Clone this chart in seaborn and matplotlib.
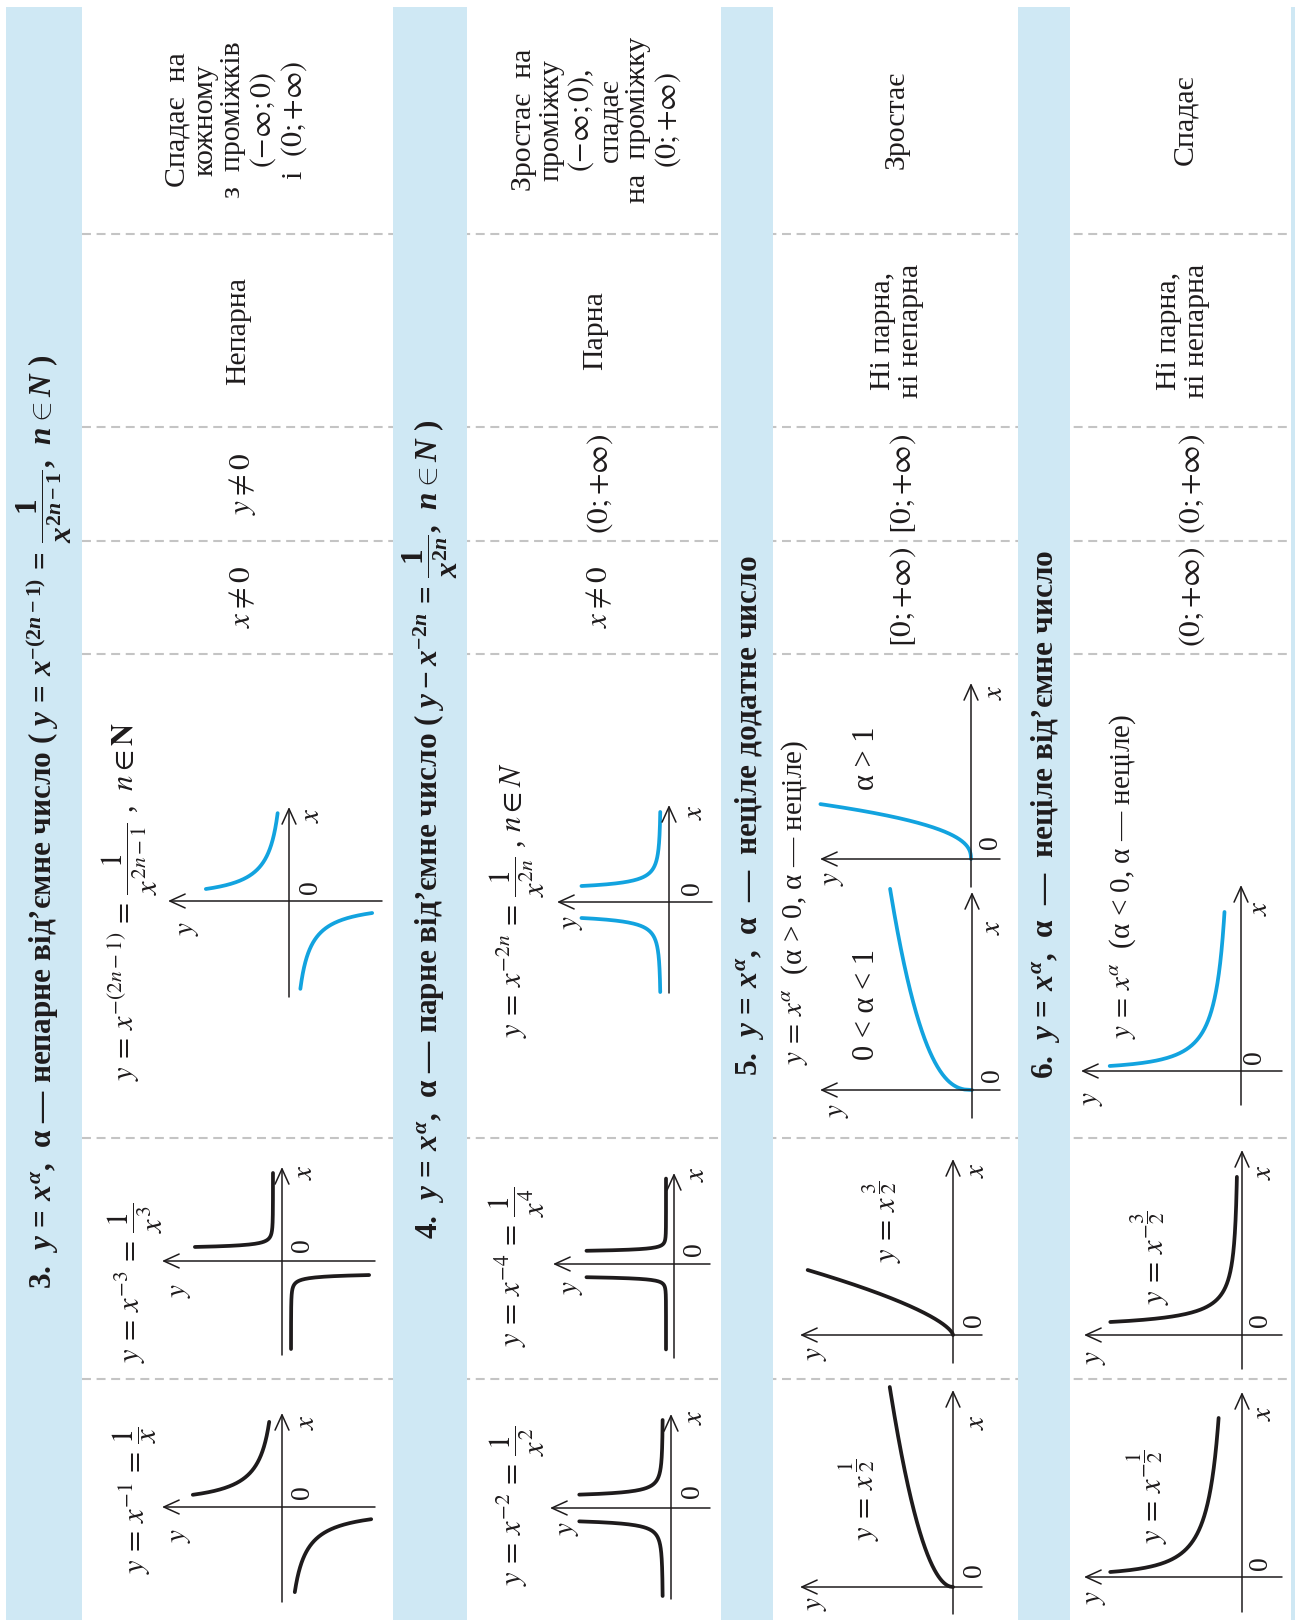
import numpy as np
import matplotlib
matplotlib.use("Agg")
import matplotlib.pyplot as plt
import seaborn as sns

# --- table content (rotated page, read bottom to top) ---
headers = [
    r"3.  $y\,=\,x^{\alpha}$,  α — непарне від’ємне число ( $y\,=\,x^{-(2n-1)}\,=\,\dfrac{1}{x^{2n-1}}$,  $n\in N$ )",
    r"4.  $y\,=\,x^{\alpha}$,  α — парне від’ємне число ( $y-x^{-2n}\,=\,\dfrac{1}{x^{2n}}$,  $n\in N$ )",
    r"5.  $y\,=\,x^{\alpha}$,  α  —  неціле додатне число",
    r"6.  $y\,=\,x^{\alpha}$,  α  —  неціле від’ємне число",
]
monotony = [
    "Спадає  на\nкожному\nз  проміжків\n$(-\\infty{;}0)$\nі  $(0{;}{+}\\infty)$",
    "Зростає  на\nпроміжку\n$(-\\infty{;}0)$,\nспадає\nна  проміжку\n$(0{;}{+}\\infty)$",
    "Зростає",
    "Спадає",
]
parity = ["Непарна", "Парна", "Ні парна,\nні непарна", "Ні парна,\nні непарна"]
value_range = [r"$y\neq 0$", r"$(0{;}{+}\infty)$", r"$[0{;}{+}\infty)$", r"$(0{;}{+}\infty)$"]
domain = [r"$x\neq 0$", r"$x\neq 0$", r"$[0{;}{+}\infty)$", r"$(0{;}{+}\infty)$"]
subtitles = [r"$y\,=\,x^{\alpha}$  (α > 0, α — неціле)", r"$y\,=\,x^{\alpha}$  (α < 0, α — неціле)"]
case_labels = ["0 < α < 1", "α > 1"]

# --- graphs: exponent, x-domain of one branch, symmetry, formula ---
graph_ids = ["g3_gen", "g3_b", "g3_a", "g4_gen", "g4_b", "g4_a",
             "g5_gt1", "g5_lt1", "g5_b", "g5_a", "g6_gen", "g6_b", "g6_a"]
graph_alpha = [-1, -3, -1, -2, -4, -2, 2.5, 0.4, 1.5, 0.5, -0.6, -1.5, -0.5]
graph_xrange = [(0.38, 2.78), (0.504, 7.9), (0.37, 2.58), (0.465, 4.77), (0.58, 8.6), (0.40, 5.97),
                (0, 1.96), (0, 4.47), (0, 5.0), (0, 10.0), (0.13, 4.12), (0.36, 5.58), (0.113, 3.59)]
graph_sym = ["odd", "odd", "odd", "even", "even", "even",
             "none", "none", "none", "none", "none", "none", "none"]
graph_formula = [
    r"$y\,=\,x^{-(2n-1)}\,=\,\dfrac{1}{x^{2n-1}}$ ,  $n\in\mathbf{N}$",
    r"$y\,=\,x^{-3}\,=\,\dfrac{1}{x^{3}}$",
    r"$y\,=\,x^{-1}\,=\,\dfrac{1}{x}$",
    r"$y\,=\,x^{-2n}\,=\,\dfrac{1}{x^{2n}}$ , $n\in N$",
    r"$y\,=\,x^{-4}\,=\,\dfrac{1}{x^{4}}$",
    r"$y\,=\,x^{-2}\,=\,\dfrac{1}{x^{2}}$",
    None, None,
    r"$y\,=\,x^{\,\dfrac{3}{2}}$",
    r"$y\,=\,x^{\,\dfrac{1}{2}}$",
    None,
    r"$y\,=\,x^{-\dfrac{3}{2}}$",
    r"$y\,=\,x^{-\dfrac{1}{2}}$",
]

# --- layout in pixels of the page ---
W, H = 1295, 1620
BLUE_BG = "#cfe8f4"
CURVE_BLUE = "#12a3df"
INK = "#1e1b1c"
DASH = "#c4c4c4"

bands = [(6, 82), (393, 467), (721, 773), (1018, 1070), (1291, 1295)]
dash_rows = [234, 427, 541, 654, 1138, 1379]
row_x = [(237, 238, 243, 243), (597, 595, 600, 600), (897, 897, 903, 903), (1185, 1183, 1192, 1192)]
row_y = (120, 331, 484, 597)
header_pos = [(44, 822), (430, 829), (750, 816), (1046, 814)]

# origin, scale px/unit, gap px, y-axis tip x, y-axis end x, x-axis bottom y, x-axis tip y, label x, label y, label 0, formula pos, colour
layout = {
    "g3_gen": dict(o=(289, 901), s=31.6, g=0, yt=168, ye=382, xb=997, xt=807, lx=(312, 815), ly=(188, 928), l0=(310, 887), f=(130, 901), c=CURVE_BLUE),
    "g3_b": dict(o=(282, 1261), s=10, g=9, yt=162, ye=375, xb=1355, xt=1167, lx=(305, 1172), ly=(180, 1290), l0=(302, 1245), f=(135, 1283), c=INK),
    "g3_a": dict(o=(282, 1507), s=33, g=0, yt=162, ye=375, xb=1602, xt=1413, lx=(307, 1422), ly=(180, 1535), l0=(302, 1492), f=(135, 1500), c=INK),
    "g4_gen": dict(o=(669, 902), s=17.2, g=8, yt=557, ye=712, xb=993, xt=805, lx=(695, 812), ly=(572, 922), l0=(692, 888), f=(517, 900), c=CURVE_BLUE),
    "g4_b": dict(o=(674, 1264), s=9, g=8, yt=553, ye=710, xb=1358, xt=1173, lx=(697, 1174), ly=(572, 1287), l0=(695, 1249), f=(517, 1267), c=INK),
    "g4_a": dict(o=(671, 1508), s=13.4, g=8, yt=550, ye=710, xb=1599, xt=1414, lx=(695, 1417), ly=(568, 1528), l0=(692, 1491), f=(517, 1506), c=INK),
    "g5_gt1": dict(o=(971, 859), s=28, g=0, yt=820, ye=1000, xb=887, xt=683, lx=(995, 692), ly=(833, 878), l0=(990, 842), f=None, c=CURVE_BLUE),
    "g5_lt1": dict(o=(972, 1090), s=45.0, g=0, yt=820, ye=1000, xb=1118, xt=892, lx=(993, 927), ly=(838, 1110), l0=(992, 1075), f=None, c=CURVE_BLUE),
    "g5_b": dict(o=(953, 1335), s=13, g=0, yt=800, ye=982, xb=1363, xt=1159, lx=(977, 1170), ly=(816, 1353), l0=(974, 1320), f=(882, 1222), c=INK),
    "g5_a": dict(o=(953, 1587), s=20, g=0, yt=800, ye=982, xb=1614, xt=1390, lx=(977, 1422), ly=(816, 1603), l0=(974, 1570), f=(860, 1500), c=INK),
    "g6_gen": dict(o=(1241, 1071), s=38.6, g=0, yt=1081, ye=1282, xb=1105, xt=885, lx=(1260, 908), ly=(1092, 1098), l0=(1255, 1057), f=None, c=CURVE_BLUE),
    "g6_b": dict(o=(1242, 1335), s=27.8, g=3, yt=1084, ye=1282, xb=1369, xt=1150, lx=(1264, 1172), ly=(1095, 1357), l0=(1260, 1320), f=(1150, 1258), c=INK),
    "g6_a": dict(o=(1242, 1577), s=44.3, g=0, yt=1084, ye=1282, xb=1612, xt=1392, lx=(1264, 1413), ly=(1095, 1597), l0=(1260, 1563), f=(1148, 1497), c=INK),
}

sns.set_theme(style="white")
plt.rcParams["font.family"] = ["Liberation Serif", "DejaVu Serif"]
plt.rcParams["mathtext.fontset"] = "stix"
# bold maths for the header bands
plt.rcParams["mathtext.rm"] = "Liberation Serif:bold"
plt.rcParams["mathtext.it"] = "Liberation Serif:italic:bold"
plt.rcParams["mathtext.bf"] = "Liberation Serif:bold"

fig = plt.figure(figsize=(W / 100, H / 100), dpi=100)
ax = fig.add_axes([0, 0, 1, 1])
ax.set_xlim(0, W)
ax.set_ylim(H, 0)
ax.axis("off")


def vtext(x, y, s, size, weight="normal", ls=1.12, mathfont="stix"):
    ax.text(x, y, s, rotation=90, rotation_mode="anchor", ha="center", va="center",
            multialignment="center", fontsize=size, fontweight=weight, color=INK,
            linespacing=ls, zorder=5, math_fontfamily=mathfont)


# dashed separators, then the blue header bands on top
for yy in dash_rows:
    ax.plot([82, 1291], [yy, yy], color=DASH, lw=1.5, dashes=(4.3, 2.7), zorder=1)
for x0, x1 in bands:
    ax.axvspan(x0, x1, ymin=0, ymax=1 - 7 / H, color=BLUE_BG, lw=0, zorder=2)

for i in range(4):
    vtext(header_pos[i][0], header_pos[i][1], headers[i], 22.5, weight="bold", mathfont="custom")
    xs = row_x[i]
    vtext(xs[0], row_y[0], monotony[i], 21.5, ls=1.08)
    vtext(xs[1], row_y[1], parity[i], 21.5, ls=1.08)
    vtext(xs[2], row_y[2], value_range[i], 22.5)
    vtext(xs[3], row_y[3], domain[i], 22.5)

vtext(795, 902, subtitles[0], 21)
vtext(1123, 876, subtitles[1], 21)
vtext(867, 1004, case_labels[0], 22)
vtext(867, 758, case_labels[1], 22)

arrow = dict(arrowstyle="->,head_length=0.55,head_width=0.25", lw=1.1, color=INK,
             shrinkA=0, shrinkB=0, mutation_scale=20)

for gid, alpha, xr, sym, formula in zip(graph_ids, graph_alpha, graph_xrange, graph_sym, graph_formula):
    lay = layout[gid]
    ox, oy = lay["o"]
    s, g = lay["s"], lay["g"]
    x0, x1 = lay["yt"] - 12, lay["ye"] + 6
    y0, y1 = lay["xt"] - 6, lay["xb"] + 6
    gax = fig.add_axes([x0 / W, 1 - y1 / H, (x1 - x0) / W, (y1 - y0) / H])

    X = np.linspace(xr[0], xr[1], 400)
    Y = X ** alpha
    branches = [(X, Y)]
    if sym == "odd":
        branches.append((-X, -Y))
    elif sym == "even":
        branches.append((-X, Y))
    for bx, by in branches:
        # function x runs up the page, function y runs to the left
        sns.lineplot(x=by + np.sign(by) * g / s, y=bx + np.sign(bx) * g / s, ax=gax,
                     sort=False, estimator=None, color=lay["c"], lw=2.7)

    gax.set_xlim((ox - x0) / s, -(x1 - ox) / s)
    gax.set_ylim(-(y1 - oy) / s, (oy - y0) / s)
    gax.axis("off")
    gax.annotate("", xy=((ox - lay["yt"]) / s, 0), xytext=(-(lay["ye"] - ox) / s, 0), arrowprops=arrow)
    gax.annotate("", xy=(0, (oy - lay["xt"]) / s), xytext=(0, -(lay["xb"] - oy) / s), arrowprops=arrow)

    vtext(lay["lx"][0], lay["lx"][1], "$x$", 21)
    vtext(lay["ly"][0], lay["ly"][1], "$y$", 21)
    vtext(lay["l0"][0], lay["l0"][1], "0", 20)
    if formula is not None:
        vtext(lay["f"][0], lay["f"][1], formula, 22)

fig.savefig("out.png", dpi=100, facecolor="white")
